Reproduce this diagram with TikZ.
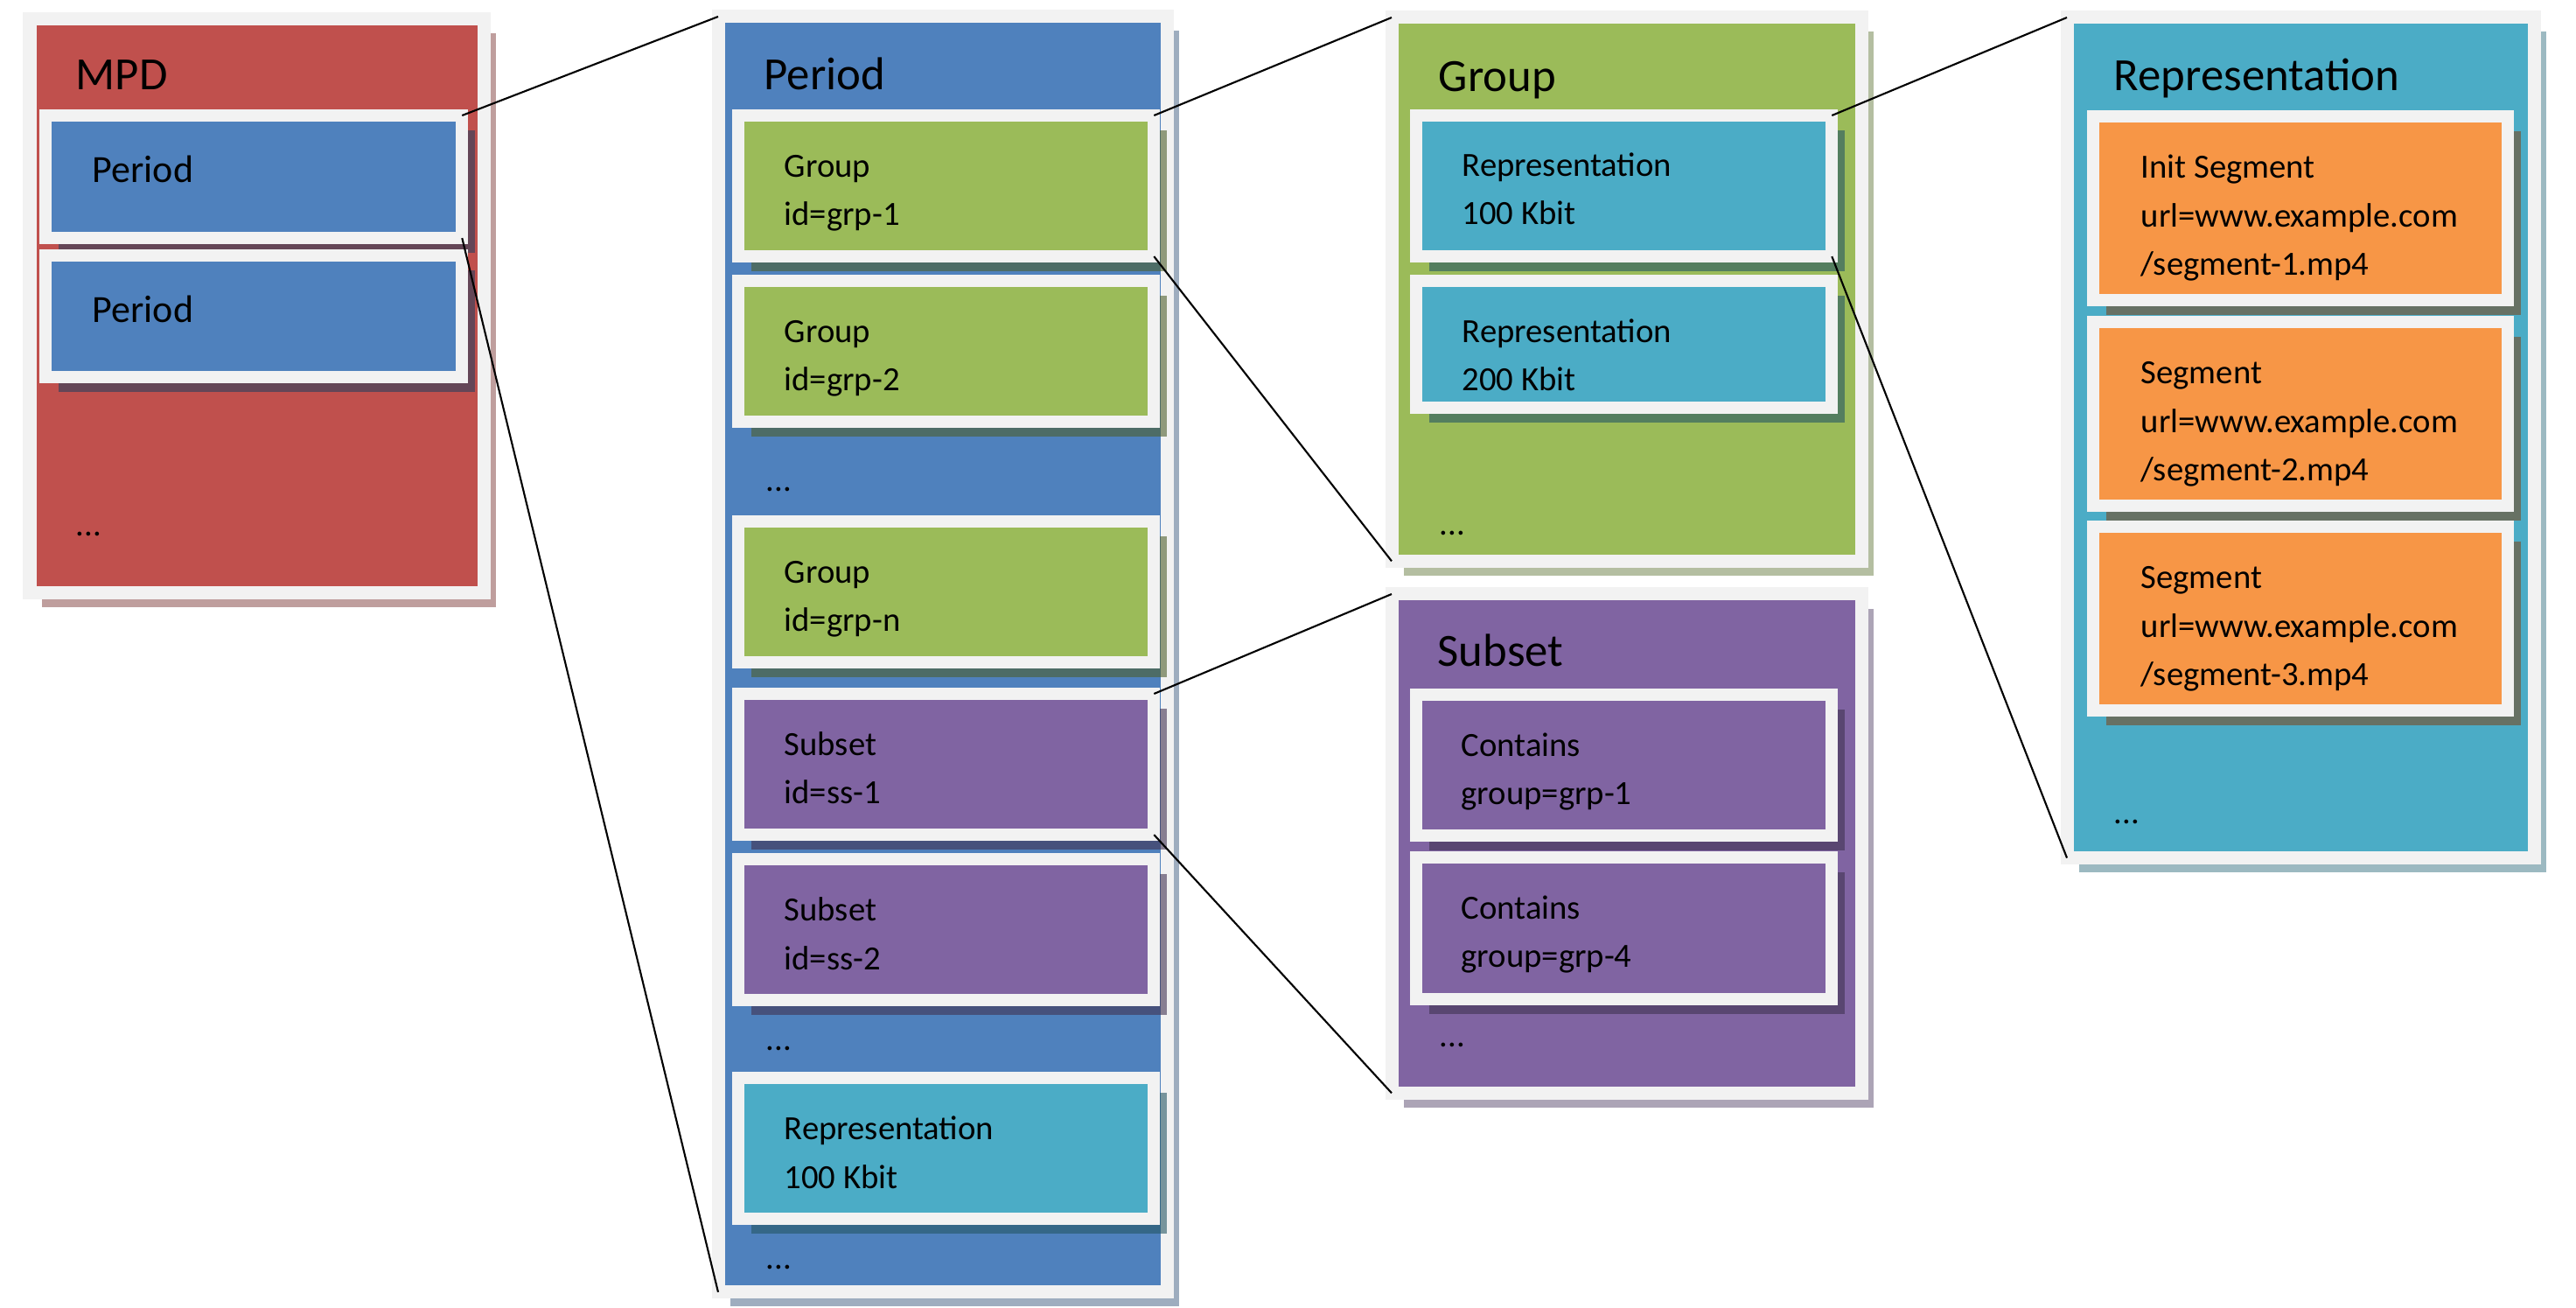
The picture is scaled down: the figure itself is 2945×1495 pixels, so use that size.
\documentclass[tikz,border=0pt]{standalone}
\usepackage{fontspec}
\setmainfont{Carlito}
\usetikzlibrary{shadows}
\definecolor{mpdred}{HTML}{C0504D}
\definecolor{perblue}{HTML}{4F81BD}
\definecolor{grpgreen}{HTML}{9BBB59}
\definecolor{subpurple}{HTML}{8064A2}
\definecolor{repcyan}{HTML}{4BACC6}
\definecolor{segorange}{HTML}{F79646}
\definecolor{framegray}{HTML}{F2F2F2}
\begin{document}
\begin{tikzpicture}[x=0.01cm,y=-0.01cm,
  outerbox/.style={draw=framegray,line width=0.15cm,fill=#1,inner sep=0pt,outer sep=0pt,anchor=north west,
    drop shadow={shadow xshift=0.135cm,shadow yshift=-0.165cm,fill=#1!30!lightgray,opacity=1}},
  innerbox/.style={draw=framegray,line width=0.14cm,fill=#1,inner sep=0pt,outer sep=0pt,anchor=north west,minimum width=4.75cm,
    drop shadow={shadow xshift=0.15cm,shadow yshift=-0.17cm,fill=#1!50!black,opacity=0.6}},
  title/.style={anchor=base west,inner sep=0pt,font=\fontsize{15}{18}\selectfont},
  entry/.style={anchor=base west,inner sep=0pt,align=left,font=\fontsize{11}{15.9}\selectfont},
  link/.style={line width=0.6pt}]
\useasboundingbox (0,0) rectangle (2945,1495);
% MPD
\node[outerbox=mpdred,minimum width=5.19cm,minimum height=6.55cm] (mpd) at (34,22) {};
\node[innerbox=perblue,minimum width=4.76cm,minimum height=1.40cm] (mpdp1) at (52,132) {};
\node[innerbox=perblue,minimum width=4.76cm,minimum height=1.39cm] (mpdp2) at (52,292) {};
\node[title] (mpdt) at (86,103) {MPD};
\node[entry,font=\fontsize{12.5}{16}\selectfont] (mpdp1t) at (105,209) {Period};
\node[entry,font=\fontsize{12.5}{16}\selectfont] (mpdp2t) at (105,369) {Period};
\node[entry] (mpddots) at (86,613) {...};
% Period (entries anchored on their last line)
\node[outerbox=perblue,minimum width=5.13cm,minimum height=14.57cm] (per) at (821,19) {};
\node[innerbox=grpgreen,minimum height=1.61cm] (g1) at (844,132) {};
\node[innerbox=grpgreen,minimum height=1.61cm] (g2) at (844,321) {};
\node[innerbox=grpgreen,minimum height=1.61cm] (gn) at (844,596) {};
\node[innerbox=subpurple,minimum height=1.61cm] (s1) at (844,793) {};
\node[innerbox=subpurple,minimum height=1.61cm] (s2) at (844,982) {};
\node[innerbox=repcyan,minimum height=1.61cm] (r) at (844,1232) {};
\node[title] (pert) at (873,103) {Period};
\node[entry] (g1t) at (896,258) {Group\\id=grp-1};
\node[entry] (g2t) at (896,447) {Group\\id=grp-2};
\node[entry] (perdots1) at (875,562) {...};
\node[entry] (gnt) at (896,722) {Group\\id=grp-n};
\node[entry] (s1t) at (896,919) {Subset\\id=ss-1};
\node[entry] (s2t) at (896,1108) {Subset\\id=ss-2};
\node[entry] (perdots2) at (875,1200) {...};
\node[entry] (rt) at (896,1358) {Representation\\100 Kbit};
\node[entry] (perdots3) at (875,1450) {...};
% Group
\node[outerbox=grpgreen,minimum width=5.37cm,minimum height=6.21cm] (grp) at (1591,20) {};
\node[innerbox=repcyan,minimum height=1.61cm] (r1) at (1619,132) {};
\node[innerbox=repcyan,minimum height=1.45cm] (r2) at (1619,321) {};
\node[title] (grpt) at (1644,105) {Group};
\node[entry] (r1t) at (1671,257) {Representation\\100 Kbit};
\node[entry] (r2t) at (1671,447) {Representation\\200 Kbit};
\node[entry] (grpdots) at (1645,612) {...};
% Subset
\node[outerbox=subpurple,minimum width=5.37cm,minimum height=5.70cm] (sub) at (1591,679) {};
\node[innerbox=subpurple,minimum height=1.61cm] (c1) at (1619,794) {};
\node[innerbox=subpurple,minimum height=1.62cm] (c2) at (1619,980) {};
\node[title] (subt) at (1643,762) {Subset};
\node[entry] (c1t) at (1670,920) {Contains\\group=grp-1};
\node[entry] (c2t) at (1670,1106) {Contains\\group=grp-4};
\node[entry] (subdots) at (1645,1196) {...};
% Representation
\node[outerbox=repcyan,minimum width=5.34cm,minimum height=9.60cm] (rep) at (2363,20) {};
\node[innerbox=segorange,minimum width=4.74cm,minimum height=2.10cm] (seg1) at (2393,133) {};
\node[innerbox=segorange,minimum width=4.74cm,minimum height=2.10cm] (seg2) at (2393,368) {};
\node[innerbox=segorange,minimum width=4.74cm,minimum height=2.10cm] (seg3) at (2393,602) {};
\node[title] (rept) at (2416,104) {Representation};
\node[entry] (seg1t) at (2447,315) {Init Segment\\url=www.example.com\\/segment-1.mp4};
\node[entry] (seg2t) at (2447,550) {Segment\\url=www.example.com\\/segment-2.mp4};
\node[entry] (seg3t) at (2447,784) {Segment\\url=www.example.com\\/segment-3.mp4};
\node[entry] (repdots) at (2416,942) {...};
% zoom lines
\draw[link] (mpdp1.north east) -- (per.north west);
\draw[link] (mpdp1.south east) -- (per.south west);
\draw[link] (g1.north east) -- (grp.north west);
\draw[link] (g1.south east) -- (grp.south west);
\draw[link] (s1.north east) -- (sub.north west);
\draw[link] (s1.south east) -- (sub.south west);
\draw[link] (r1.north east) -- (rep.north west);
\draw[link] (r1.south east) -- (rep.south west);
\end{tikzpicture}
\end{document}
